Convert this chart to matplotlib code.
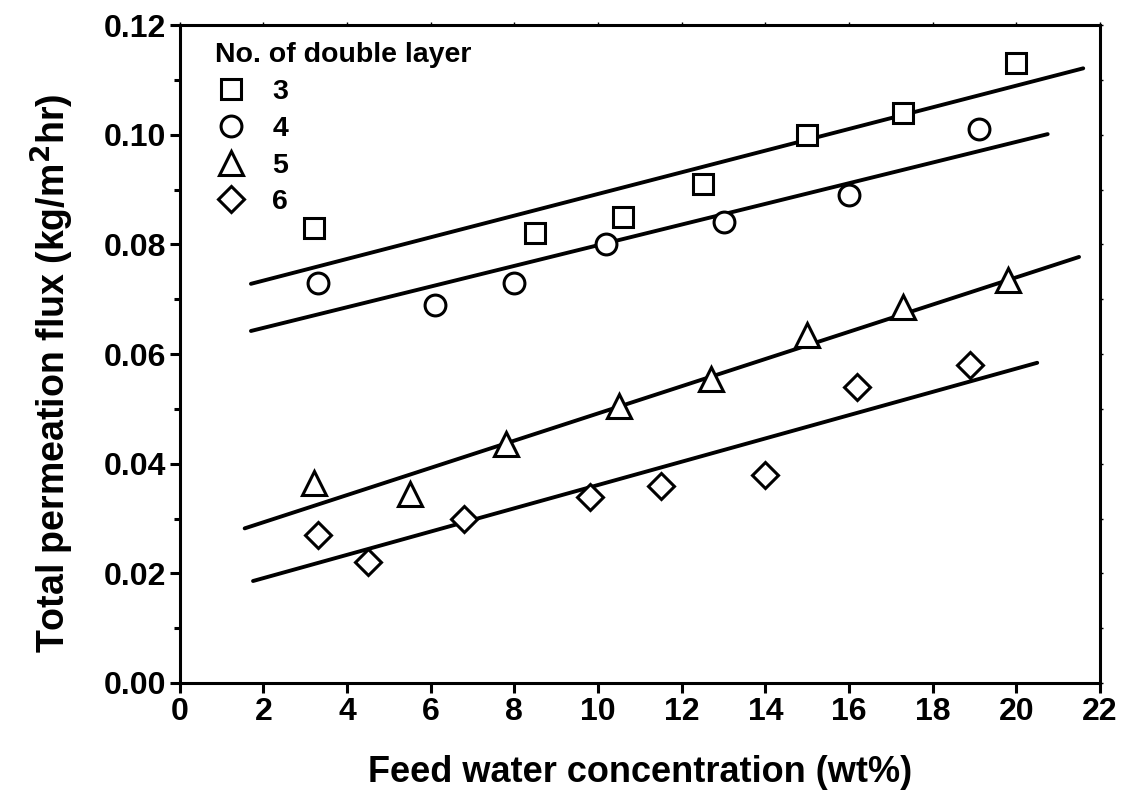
import matplotlib.pyplot as plt
from matplotlib.ticker import MultipleLocator

plt.rcParams['font.family'] = ['Liberation Sans', 'DejaVu Sans']
plt.rcParams['font.weight'] = 'bold'

# measured points, one list per number of double layers
x3 = [3.2, 8.5, 10.6, 12.5, 15.0, 17.3, 20.0]
y3 = [0.083, 0.082, 0.085, 0.091, 0.100, 0.104, 0.113]
x4 = [3.3, 6.1, 8.0, 10.2, 13.0, 16.0, 19.1]
y4 = [0.073, 0.069, 0.073, 0.080, 0.084, 0.089, 0.101]
x5 = [3.2, 5.5, 7.8, 10.5, 12.7, 15.0, 17.3, 19.8]
y5 = [0.0365, 0.0345, 0.0435, 0.0505, 0.0555, 0.0635, 0.0685, 0.0735]
x6 = [3.3, 4.5, 6.8, 9.8, 11.5, 14.0, 16.2, 18.9]
y6 = [0.027, 0.022, 0.030, 0.034, 0.036, 0.038, 0.054, 0.058]

# linear fit lines (ends)
fit_x0 = [1.7, 1.7, 1.55, 1.75]
fit_x1 = [21.6, 20.75, 21.5, 20.5]
fit_y0 = [0.0728, 0.0642, 0.0282, 0.0186]
fit_y1 = [0.1121, 0.1001, 0.0777, 0.0584]

labels = ['3', '4', '5', '6']
markers = ['s', 'o', '^', 'D']
sizes = [14, 15, 17, 13]

fig = plt.figure(figsize=(11.24, 7.94), dpi=100)
ax = fig.add_axes([0.160, 0.1398, 0.8186, 0.8287])

xs = [x3, x4, x5, x6]
ys = [y3, y4, y5, y6]
for i in range(4):
    ax.plot(xs[i], ys[i], linestyle='none', marker=markers[i], ms=sizes[i],
            mfc='white', mec='black', mew=2.2, label=labels[i], zorder=3)
    ax.plot([fit_x0[i], fit_x1[i]], [fit_y0[i], fit_y1[i]], color='black',
            lw=2.8, solid_capstyle='round', zorder=2)

ax.set_xlim(0, 22)
ax.set_ylim(0, 0.12)
ax.xaxis.set_major_locator(MultipleLocator(2))
ax.yaxis.set_major_locator(MultipleLocator(0.02))
ax.yaxis.set_minor_locator(MultipleLocator(0.01))
ax.yaxis.set_major_formatter(plt.FormatStrFormatter('%.2f'))
ax.tick_params(which='major', direction='out', length=7, width=2.2,
               labelsize=23, pad=3)
ax.tick_params(which='minor', direction='out', length=4, width=2.2)
for s in ax.spines.values():
    s.set_linewidth(2.2)

# faint short ticks on top and right edges
top = ax.secondary_xaxis('top')
top.xaxis.set_major_locator(MultipleLocator(2))
top.tick_params(length=2.5, width=1, labeltop=False)
right = ax.secondary_yaxis('right')
right.yaxis.set_major_locator(MultipleLocator(0.01))
right.tick_params(length=2.5, width=1, labelright=False)

ax.set_xlabel('Feed water concentration (wt%)', fontsize=26,
              fontweight='bold', labelpad=20)
ax.set_ylabel('Total permeation flux (kg/m$^\\mathbf{2}$hr)', fontsize=27,
              fontweight='bold', labelpad=20)
ax.yaxis.label.set_y(0.47)

leg = ax.legend(loc='upper left', frameon=False, title='No. of double layer',
                prop={'size': 20.5, 'weight': 'bold'}, handletextpad=0.9,
                labelspacing=0.38, borderaxespad=0.2, handlelength=1.1,
                bbox_to_anchor=(0.02, 1.0))
leg.get_title().set_fontsize(20.5)
leg.get_title().set_fontweight('bold')
leg._legend_box.align = 'left'

fig.savefig('out.png', dpi=100)
